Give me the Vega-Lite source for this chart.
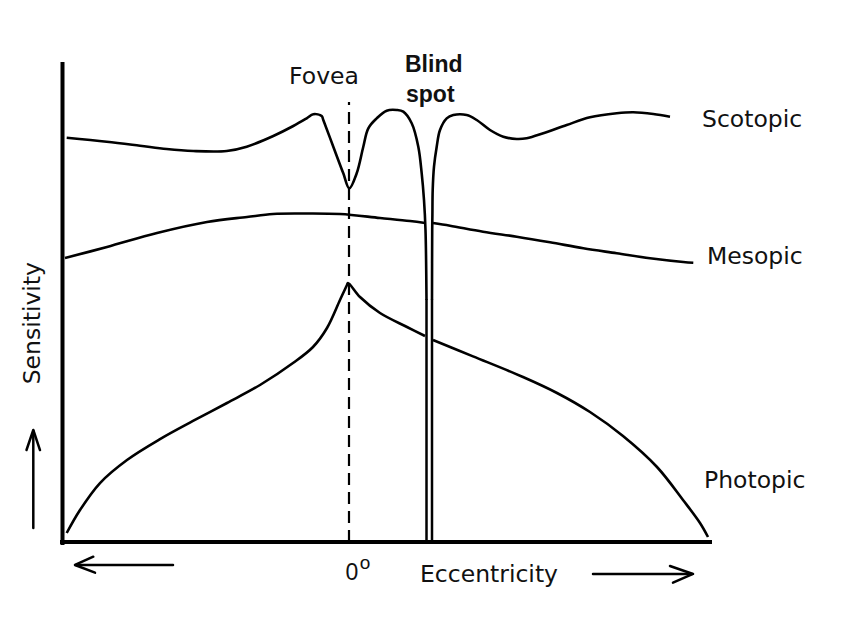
{
  "$schema": "https://vega.github.io/schema/vega-lite/v6.json",
  "width": 650,
  "height": 481,
  "autosize": {"type": "none"},
  "padding": {"left": 62, "top": 62, "right": 138, "bottom": 81},
  "background": "white",
  "config": {"view": {"stroke": null}},
  "datasets": {
    "curves": [
      {"seg": "Scotopic left", "i": 1, "x": -56.26, "y": 84.26},
      {"seg": "Scotopic left", "i": 2, "x": -48.26, "y": 83.43},
      {"seg": "Scotopic left", "i": 3, "x": -41.6, "y": 82.6},
      {"seg": "Scotopic left", "i": 4, "x": -36.26, "y": 81.91},
      {"seg": "Scotopic left", "i": 5, "x": -30.94, "y": 81.5},
      {"seg": "Scotopic left", "i": 6, "x": -24.26, "y": 81.5},
      {"seg": "Scotopic left", "i": 7, "x": -20.26, "y": 82.39},
      {"seg": "Scotopic left", "i": 8, "x": -14.94, "y": 84.62},
      {"seg": "Scotopic left", "i": 9, "x": -10.94, "y": 86.69},
      {"seg": "Scotopic left", "i": 10, "x": -8.26, "y": 88.29},
      {"seg": "Scotopic left", "i": 11, "x": -6.94, "y": 89.13},
      {"seg": "Scotopic left", "i": 12, "x": -5.26, "y": 88.77},
      {"seg": "Scotopic left", "i": 13, "x": -4.94, "y": 87.94},
      {"seg": "Scotopic left", "i": 14, "x": -2.94, "y": 82.39},
      {"seg": "Scotopic left", "i": 15, "x": -0.94, "y": 76.86},
      {"seg": "Scotopic left", "i": 16, "x": 0.26, "y": 73.74},
      {"seg": "Scotopic left", "i": 17, "x": 1.74, "y": 76.86},
      {"seg": "Scotopic left", "i": 18, "x": 3.06, "y": 82.39},
      {"seg": "Scotopic left", "i": 19, "x": 4.06, "y": 86.22},
      {"seg": "Scotopic left", "i": 20, "x": 5.74, "y": 88.29},
      {"seg": "Scotopic left", "i": 21, "x": 7.74, "y": 89.88},
      {"seg": "Scotopic left", "i": 22, "x": 9.74, "y": 90.02},
      {"seg": "Scotopic left", "i": 23, "x": 11.06, "y": 89.67},
      {"seg": "Scotopic left", "i": 24, "x": 12.74, "y": 87.26},
      {"seg": "Scotopic left", "i": 25, "x": 14.06, "y": 82.39},
      {"seg": "Scotopic left", "i": 26, "x": 14.74, "y": 76.86},
      {"seg": "Scotopic left", "i": 27, "x": 15.2, "y": 71.31},
      {"seg": "Scotopic left", "i": 28, "x": 15.5, "y": 65.07},
      {"seg": "Scotopic left", "i": 29, "x": 15.7, "y": 50.52},
      {"seg": "Scotopic right", "i": 1, "x": 16.8, "y": 50.52},
      {"seg": "Scotopic right", "i": 2, "x": 16.84, "y": 65.07},
      {"seg": "Scotopic right", "i": 3, "x": 16.88, "y": 68.19},
      {"seg": "Scotopic right", "i": 4, "x": 16.94, "y": 73.39},
      {"seg": "Scotopic right", "i": 5, "x": 17.2, "y": 78.23},
      {"seg": "Scotopic right", "i": 6, "x": 17.74, "y": 82.39},
      {"seg": "Scotopic right", "i": 7, "x": 18.4, "y": 85.86},
      {"seg": "Scotopic right", "i": 8, "x": 19.74, "y": 88.29},
      {"seg": "Scotopic right", "i": 9, "x": 21.06, "y": 88.98},
      {"seg": "Scotopic right", "i": 10, "x": 23.74, "y": 88.98},
      {"seg": "Scotopic right", "i": 11, "x": 25.74, "y": 87.94},
      {"seg": "Scotopic right", "i": 12, "x": 28.4, "y": 85.86},
      {"seg": "Scotopic right", "i": 13, "x": 31.06, "y": 84.47},
      {"seg": "Scotopic right", "i": 14, "x": 33.74, "y": 83.99},
      {"seg": "Scotopic right", "i": 15, "x": 35.74, "y": 84.14},
      {"seg": "Scotopic right", "i": 16, "x": 39.06, "y": 85.18},
      {"seg": "Scotopic right", "i": 17, "x": 43.74, "y": 86.9},
      {"seg": "Scotopic right", "i": 18, "x": 48.4, "y": 88.5},
      {"seg": "Scotopic right", "i": 19, "x": 53.74, "y": 89.33},
      {"seg": "Scotopic right", "i": 20, "x": 57.06, "y": 89.54},
      {"seg": "Scotopic right", "i": 21, "x": 61.06, "y": 89.19},
      {"seg": "Scotopic right", "i": 22, "x": 64.4, "y": 88.63},

      {"seg": "Mesopic left", "i": 1, "x": -56.6, "y": 59.25},
      {"seg": "Mesopic left", "i": 2, "x": -48.2, "y": 61.54},
      {"seg": "Mesopic left", "i": 3, "x": -38.2, "y": 64.45},
      {"seg": "Mesopic left", "i": 4, "x": -28.2, "y": 66.74},
      {"seg": "Mesopic left", "i": 5, "x": -20.2, "y": 67.78},
      {"seg": "Mesopic left", "i": 6, "x": -15.0, "y": 68.4},
      {"seg": "Mesopic left", "i": 7, "x": -9.6, "y": 68.5},
      {"seg": "Mesopic left", "i": 8, "x": -1.6, "y": 68.4},
      {"seg": "Mesopic left", "i": 9, "x": 6.4, "y": 67.57},
      {"seg": "Mesopic left", "i": 10, "x": 12.4, "y": 66.94},
      {"seg": "Mesopic left", "i": 11, "x": 15.4, "y": 66.53},
      {"seg": "Mesopic right", "i": 1, "x": 17.0, "y": 66.53},
      {"seg": "Mesopic right", "i": 2, "x": 20.4, "y": 65.97},
      {"seg": "Mesopic right", "i": 3, "x": 27.0, "y": 64.72},
      {"seg": "Mesopic right", "i": 4, "x": 33.74, "y": 63.68},
      {"seg": "Mesopic right", "i": 5, "x": 40.4, "y": 62.52},
      {"seg": "Mesopic right", "i": 6, "x": 47.06, "y": 61.27},
      {"seg": "Mesopic right", "i": 7, "x": 53.74, "y": 60.23},
      {"seg": "Mesopic right", "i": 8, "x": 60.4, "y": 59.19},
      {"seg": "Mesopic right", "i": 9, "x": 67.06, "y": 58.42},
      {"seg": "Mesopic right", "i": 10, "x": 69.06, "y": 58.27},

      {"seg": "Photopic left", "i": 1, "x": -56.26, "y": 2.08},
      {"seg": "Photopic left", "i": 2, "x": -53.6, "y": 6.86},
      {"seg": "Photopic left", "i": 3, "x": -49.6, "y": 12.47},
      {"seg": "Photopic left", "i": 4, "x": -44.2, "y": 17.26},
      {"seg": "Photopic left", "i": 5, "x": -37.6, "y": 21.6},
      {"seg": "Photopic left", "i": 6, "x": -31.0, "y": 25.37},
      {"seg": "Photopic left", "i": 7, "x": -24.2, "y": 29.11},
      {"seg": "Photopic left", "i": 8, "x": -17.6, "y": 32.85},
      {"seg": "Photopic left", "i": 9, "x": -11.0, "y": 37.42},
      {"seg": "Photopic left", "i": 10, "x": -7.0, "y": 40.75},
      {"seg": "Photopic left", "i": 11, "x": -4.2, "y": 44.7},
      {"seg": "Photopic left", "i": 12, "x": -1.6, "y": 50.52},
      {"seg": "Photopic left", "i": 13, "x": -0.2, "y": 53.64},
      {"seg": "Photopic left", "i": 14, "x": 0.0, "y": 54.05},
      {"seg": "Photopic left", "i": 15, "x": 2.4, "y": 51.14},
      {"seg": "Photopic left", "i": 16, "x": 6.4, "y": 47.82},
      {"seg": "Photopic left", "i": 17, "x": 11.8, "y": 44.91},
      {"seg": "Photopic left", "i": 18, "x": 15.4, "y": 43.04},
      {"seg": "Photopic right", "i": 1, "x": 17.0, "y": 42.2},
      {"seg": "Photopic right", "i": 2, "x": 25.0, "y": 38.8},
      {"seg": "Photopic right", "i": 3, "x": 35.0, "y": 34.51},
      {"seg": "Photopic right", "i": 4, "x": 41.8, "y": 31.19},
      {"seg": "Photopic right", "i": 5, "x": 48.4, "y": 27.23},
      {"seg": "Photopic right", "i": 6, "x": 55.0, "y": 22.24},
      {"seg": "Photopic right", "i": 7, "x": 61.8, "y": 15.8},
      {"seg": "Photopic right", "i": 8, "x": 67.0, "y": 8.94},
      {"seg": "Photopic right", "i": 9, "x": 70.4, "y": 4.16},
      {"seg": "Photopic right", "i": 10, "x": 72.0, "y": 1.25}
    ],
    "straight": [
      {"a": "blind spot", "i": 1, "x": 15.7, "y": 50.52},
      {"a": "blind spot", "i": 2, "x": 15.7, "y": 0.3},
      {"a": "blind spot", "i": 3, "x": 16.8, "y": 0.3},
      {"a": "blind spot", "i": 4, "x": 16.8, "y": 50.52},
      {"a": "up shaft", "i": 1, "x": -62.94, "y": 3.12},
      {"a": "up shaft", "i": 2, "x": -62.94, "y": 23.3},
      {"a": "up head", "i": 1, "x": -64.3, "y": 19.33},
      {"a": "up head", "i": 2, "x": -62.94, "y": 23.49},
      {"a": "up head", "i": 3, "x": -61.6, "y": 19.33},
      {"a": "left shaft", "i": 1, "x": -54.4, "y": -4.57},
      {"a": "left shaft", "i": 2, "x": -35.0, "y": -4.57},
      {"a": "left head", "i": 1, "x": -50.94, "y": -2.85},
      {"a": "left head", "i": 2, "x": -54.6, "y": -4.57},
      {"a": "left head", "i": 3, "x": -50.6, "y": -6.17},
      {"a": "right shaft", "i": 1, "x": 49.0, "y": -6.44},
      {"a": "right shaft", "i": 2, "x": 68.8, "y": -6.44},
      {"a": "right head", "i": 1, "x": 64.4, "y": -4.78},
      {"a": "right head", "i": 2, "x": 69.0, "y": -6.44},
      {"a": "right head", "i": 3, "x": 65.0, "y": -8.25}
    ],
    "frame": [
      {"name": "vertical axis", "x": -57.1, "x2": -57.1, "y": -0.4, "y2": 100},
      {"name": "horizontal axis", "x": -57.6, "x2": 72.8, "y": 0.2, "y2": 0.2}
    ],
    "fovea": [
      {"name": "fovea", "x": 0.2, "y": 0.2, "y2": 91.7}
    ],
    "sansLeft": [
      {"text": "Scotopic", "x": 70.8, "y": 87.94},
      {"text": "Mesopic", "x": 71.8, "y": 59.46},
      {"text": "Photopic", "x": 71.2, "y": 12.89},
      {"text": "Eccentricity", "x": 14.4, "y": -6.65}
    ],
    "sansCenter": [
      {"text": "Fovea", "x": -4.8, "y": 96.88, "angle": 0},
      {"text": "Sensitivity", "x": -63.0, "y": 45.7, "angle": 270}
    ],
    "bold": [
      {"text": "Blind", "x": 11.4, "y": 99.38},
      {"text": "spot", "x": 11.6, "y": 93.14}
    ],
    "degree": [
      {"text": "0", "x": 0.8, "y": -6.24, "size": 23},
      {"text": "o", "x": 3.4, "y": -4.1, "size": 19}
    ]
  },
  "layer": [
    {
      "data": {"name": "frame"},
      "mark": {"type": "rule", "color": "black", "strokeWidth": 4},
      "encoding": {
        "x": {"field": "x", "type": "quantitative", "scale": {"domain": [-57.2, 72.8], "nice": false, "zero": false}, "axis": null},
        "x2": {"field": "x2"},
        "y": {"field": "y", "type": "quantitative", "scale": {"domain": [0, 100], "nice": false, "zero": false}, "axis": null},
        "y2": {"field": "y2"}
      }
    },
    {
      "data": {"name": "fovea"},
      "mark": {"type": "rule", "color": "black", "strokeWidth": 2.2, "strokeDash": [12, 7]},
      "encoding": {
        "x": {"field": "x", "type": "quantitative"},
        "y": {"field": "y", "type": "quantitative"},
        "y2": {"field": "y2"}
      }
    },
    {
      "data": {"name": "curves"},
      "mark": {"type": "line", "color": "black", "strokeWidth": 2.6, "interpolate": "catmull-rom", "strokeJoin": "round"},
      "encoding": {
        "x": {"field": "x", "type": "quantitative"},
        "y": {"field": "y", "type": "quantitative"},
        "detail": {"field": "seg"},
        "order": {"field": "i", "type": "quantitative"}
      }
    },
    {
      "data": {"name": "straight"},
      "mark": {"type": "line", "color": "black", "strokeWidth": 2.5, "strokeCap": "round", "strokeJoin": "round"},
      "encoding": {
        "x": {"field": "x", "type": "quantitative"},
        "y": {"field": "y", "type": "quantitative"},
        "detail": {"field": "a"},
        "order": {"field": "i", "type": "quantitative"}
      }
    },
    {
      "data": {"name": "sansLeft"},
      "mark": {"type": "text", "color": "#111111", "baseline": "middle", "align": "left", "font": "DejaVu Sans", "fontSize": 23.5},
      "encoding": {
        "x": {"field": "x", "type": "quantitative"},
        "y": {"field": "y", "type": "quantitative"},
        "text": {"field": "text"}
      }
    },
    {
      "data": {"name": "sansCenter"},
      "mark": {"type": "text", "color": "#111111", "baseline": "middle", "align": "center", "font": "DejaVu Sans", "fontSize": 23.5},
      "encoding": {
        "x": {"field": "x", "type": "quantitative"},
        "y": {"field": "y", "type": "quantitative"},
        "text": {"field": "text"},
        "angle": {"field": "angle", "type": "quantitative", "scale": null}
      }
    },
    {
      "data": {"name": "bold"},
      "mark": {"type": "text", "color": "#111111", "baseline": "middle", "align": "left", "font": "Liberation Sans", "fontWeight": "bold", "fontSize": 23},
      "encoding": {
        "x": {"field": "x", "type": "quantitative"},
        "y": {"field": "y", "type": "quantitative"},
        "text": {"field": "text"}
      }
    },
    {
      "data": {"name": "degree"},
      "mark": {"type": "text", "color": "#111111", "baseline": "middle", "align": "center", "font": "Liberation Sans"},
      "encoding": {
        "x": {"field": "x", "type": "quantitative"},
        "y": {"field": "y", "type": "quantitative"},
        "text": {"field": "text"},
        "size": {"field": "size", "type": "quantitative", "scale": null}
      }
    }
  ]
}
